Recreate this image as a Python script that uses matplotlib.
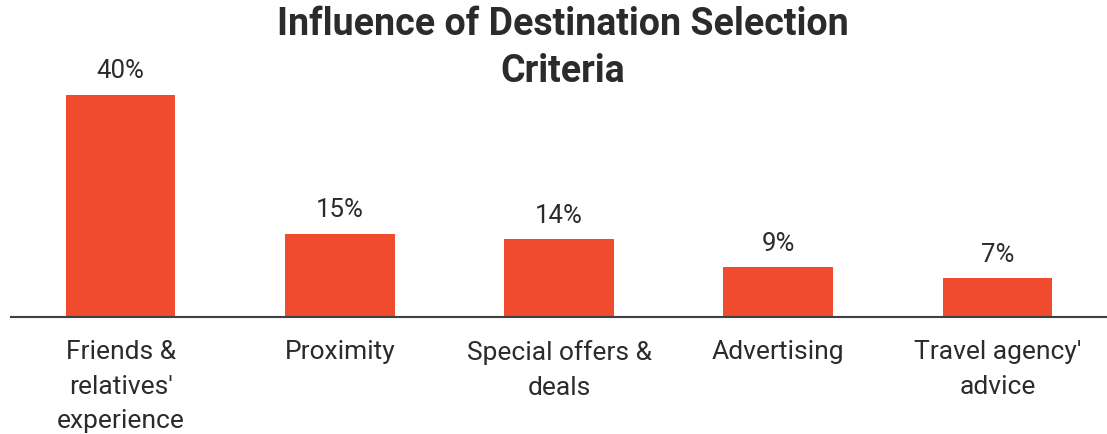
import matplotlib.pyplot as plt

BAR = "#F04B2F"
TXT = "#2b2b2b"

categories = ["Friends &\nrelatives'\nexperience", "Proximity", "Special offers &\ndeals",
              "Advertising", "Travel agency'\nadvice"]
values = [40, 15, 14, 9, 7]

plt.rcParams['font.family'] = ['Roboto', 'DejaVu Sans']

fig = plt.figure(figsize=(11.07, 4.35), dpi=100)
ax = fig.add_axes([11/1107, 117/435, 1096/1107, 318/435])

x = range(len(values))
ax.bar(x, values, width=0.5, color=BAR)
for xi, v in zip(x, values):
    ax.annotate(f"{v}%", (xi, v), xytext=(0, 9), textcoords="offset points",
                ha="center", va="bottom", fontsize=18.5, color=TXT)

ax.set_xlim(-0.5, 4.5)
ax.set_ylim(0, 318/5.55)
ax.set_xticks(list(x))
ax.set_xticklabels(categories, fontsize=19, color=TXT, linespacing=1.55)
ax.tick_params(axis='x', length=0, pad=16)
ax.set_yticks([])
for s in ["top", "right", "left"]:
    ax.spines[s].set_visible(False)
ax.spines["bottom"].set_color("#404040")
ax.spines["bottom"].set_linewidth(1.5)

fig.text(563/1107, 1 - 48/435, "Influence of Destination Selection\nCriteria",
         ha="center", va="center", fontsize=27, fontweight="bold", color=TXT,
         linespacing=1.35)

fig.savefig("out.png", dpi=100)
